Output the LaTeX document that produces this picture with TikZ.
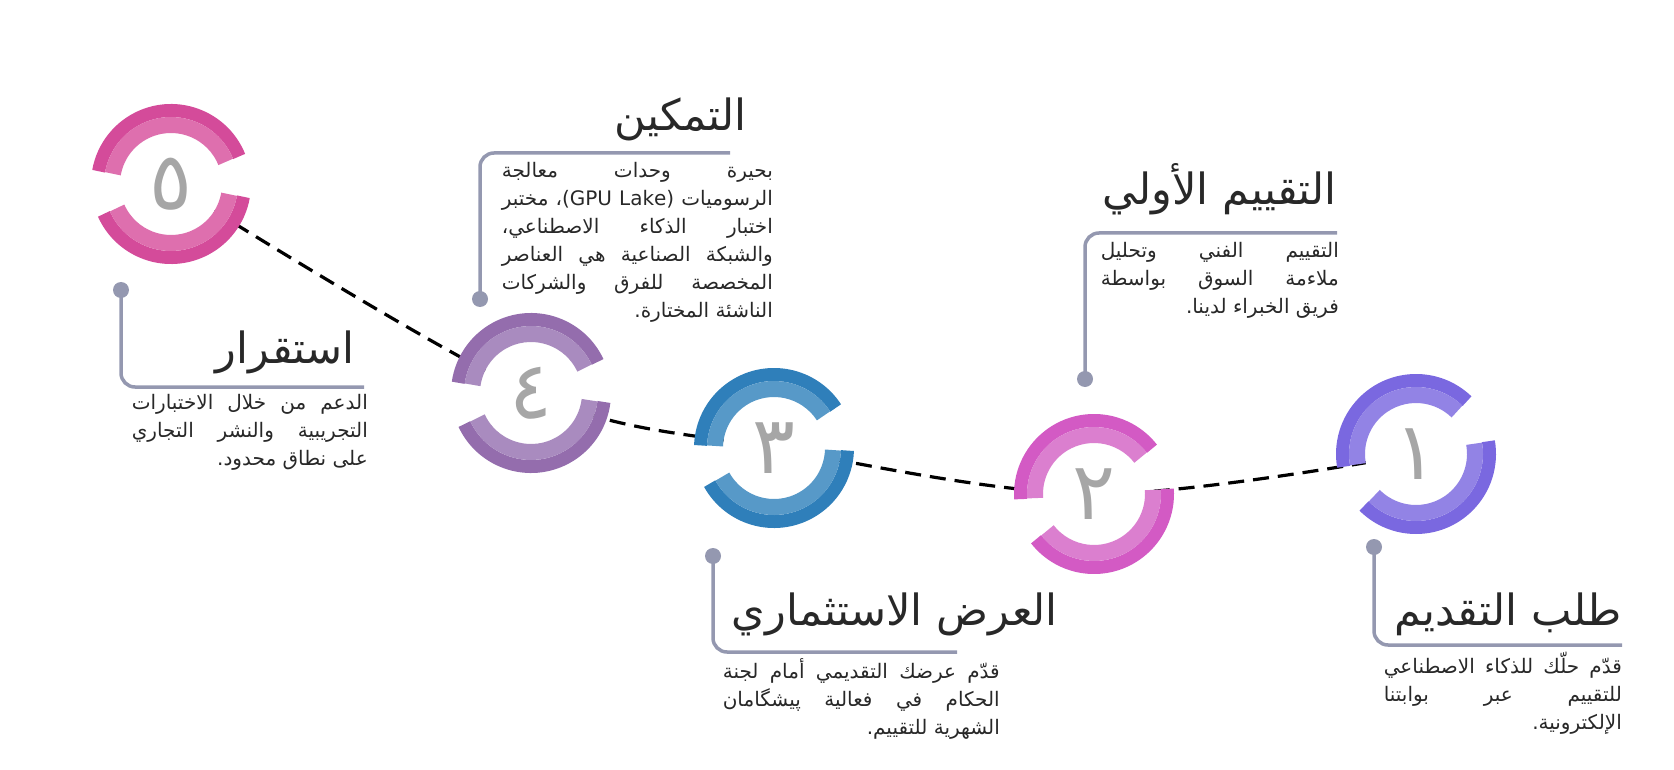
\documentclass[tikz,border=0pt]{standalone}
\usepackage{fontspec}
\newfontfamily\arabicfont[Script=Arabic]{DejaVu Sans}
\TeXXeTstate=1
\definecolor{leadgray}{RGB}{148,152,176}
\definecolor{numgray}{RGB}{166,166,166}
\definecolor{txtdark}{RGB}{40,40,40}
\definecolor{pinkA}{RGB}{212,75,154}\definecolor{pinkB}{RGB}{222,111,174}
\definecolor{purpA}{RGB}{148,109,173}\definecolor{purpB}{RGB}{169,139,191}
\definecolor{blueA}{RGB}{47,127,186}\definecolor{blueB}{RGB}{87,153,200}
\definecolor{magA}{RGB}{211,90,196}\definecolor{magB}{RGB}{219,127,207}
\definecolor{violA}{RGB}{122,104,224}\definecolor{violB}{RGB}{146,131,229}
\tikzset{
  leader/.style={draw=leadgray, line width=3.5pt, rounded corners=14pt},
  steptitle/.style={anchor=base east, inner sep=0pt, text=txtdark, font=\arabicfont\fontsize{43}{48}\selectfont},
  stepbody/.style={anchor=north east, inner sep=0pt, text=txtdark, align=justify, font=\arabicfont\fontsize{20}{28}\selectfont},
  stepnum/.style={text=numgray, font=\arabicfont\fontsize{80}{80}\selectfont},
}
\begin{document}
\begin{tikzpicture}[x=1pt,y=-1pt]
\useasboundingbox (0,0) rectangle (1674,770);

% centres
\coordinate (c5) at (171,184);
\coordinate (c4) at (531,393);
\coordinate (c3) at (774,448);
\coordinate (c2) at (1094,494);
\coordinate (c1) at (1416,454);

% dashed path
\draw[black, line width=3.2pt, dash pattern=on 16pt off 9pt] plot[smooth, tension=0.55] coordinates {(c5) (c4) (c3) (c2) (c1)};

% rings
\foreach \c/\ca/\cb/\ta/\tb/\ba/\bb/\n in {c5/pinkA/pinkB/-22/-170/-204/-350/٥, c4/purpA/purpB/-25/-172/-205/-353/٤,
    c3/blueA/blueB/-33/-178/-209/-358/٣, c2/magA/magB/-38/-184/-218/-364/٢, c1/violA/violB/-46/-190/-225/-370/١}{
  \fill[white] (\c) circle (51);
  \draw[\ca, line width=13pt] ([shift={(\ta:73.5)}]\c) arc[start angle=\ta, end angle=\tb, radius=73.5];
  \draw[\cb, line width=16pt] ([shift={(\ta:59)}]\c) arc[start angle=\ta, end angle=\tb, radius=59];
  \draw[\ca, line width=13pt] ([shift={(\ba:73.5)}]\c) arc[start angle=\ba, end angle=\bb, radius=73.5];
  \draw[\cb, line width=16pt] ([shift={(\ba:59)}]\c) arc[start angle=\ba, end angle=\bb, radius=59];
  \node[stepnum] (n\c) at (\c) {\n};
}

% step 1
\coordinate (d1) at (1374,547);
\coordinate (e1) at (1622,645);
\draw[leader] (d1) |- (e1);
\fill[leadgray] (d1) circle (8);
\node[steptitle] (t1) at (1622,625) {\beginR طلب التقديم\endR};
\node[stepbody, text width=238pt] (b1) at (1622,652) {\parfillskip=0pt \beginR قدّم حلّك للذكاء الاصطناعي \linebreak للتقييم عبر بوابتنا \linebreak الإلكترونية.\hfill\endR};

% step 2
\coordinate (d2) at (1085,379);
\coordinate (e2) at (1337,233);
\draw[leader] (d2) |- (e2);
\fill[leadgray] (d2) circle (8);
\node[steptitle] (t2) at (1337,205) {\beginR التقييم الأولي\endR};
\node[stepbody, text width=238pt] (b2) at (1339,242) {\parfillskip=0pt \beginR التقييم الفني وتحليل \linebreak ملاءمة السوق بواسطة \linebreak فريق الخبراء لدينا.\hfill\endR};

% step 3
\coordinate (d3) at (713,556);
\coordinate (e3) at (957,652);
\draw[leader] (d3) |- (e3);
\fill[leadgray] (d3) circle (8);
\node[steptitle] (t3) at (1058,625) {\beginR العرض الاستثماري\endR};
\node[stepbody, text width=277pt] (b3) at (1000,658) {\parfillskip=0pt \beginR قدّم عرضك التقديمي أمام لجنة \linebreak الحكام في فعالية پيشگامان \linebreak الشهرية للتقييم.\hfill\endR};

% step 4
\coordinate (d4) at (480,299);
\coordinate (e4) at (730,153);
\draw[leader] (d4) |- (e4);
\fill[leadgray] (d4) circle (8);
\node[steptitle] (t4) at (747,131) {\beginR التمكين\endR};
\node[stepbody, text width=271pt] (b4) at (773,162) {\parfillskip=0pt \beginR بحيرة وحدات معالجة \linebreak الرسوميات \beginL(GPU Lake)\endL، مختبر \linebreak اختبار الذكاء الاصطناعي، \linebreak والشبكة الصناعية هي العناصر \linebreak المخصصة للفرق والشركات \linebreak الناشئة المختارة.\hfill\endR};

% step 5
\coordinate (d5) at (121,290);
\coordinate (e5) at (364,387);
\draw[leader] (d5) |- (e5);
\fill[leadgray] (d5) circle (8);
\node[steptitle] (t5) at (355,363) {\beginR استقرار\endR};
\node[stepbody, text width=236pt] (b5) at (368,394) {\parfillskip=0pt \beginR الدعم من خلال الاختبارات \linebreak التجريبية والنشر التجاري \linebreak على نطاق محدود.\hfill\endR};
\end{tikzpicture}
\end{document}
